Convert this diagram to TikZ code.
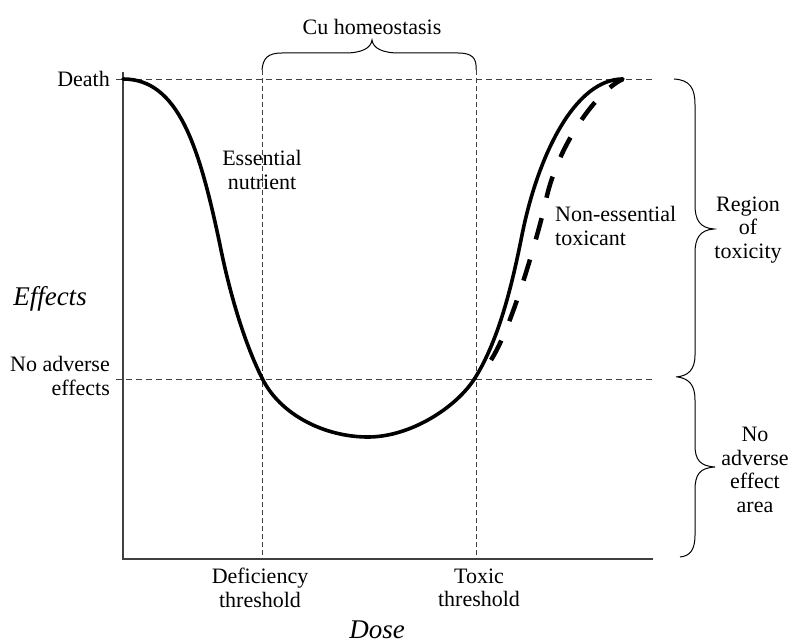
\documentclass[tikz,border=0pt]{standalone}
\usepackage{fontspec}
\setmainfont{Liberation Serif}
\begin{document}
\begin{tikzpicture}[x=1pt,y=-1pt,
  lbl/.style={font=\fontsize{22}{23.5}\selectfont, align=center, inner sep=0pt},
  axislbl/.style={font=\fontsize{27}{30}\selectfont\itshape, inner sep=0pt},
  guide/.style={draw=black!75, line width=0.9pt, dash pattern=on 6pt off 4pt},
  vguide/.style={draw=black!75, line width=0.8pt, dash pattern=on 5pt off 3pt},
  axisline/.style={draw=black!75, line width=1.5pt},
  response/.style={line width=3.6pt, line join=round, line cap=round},
  toxcurve/.style={line width=4.5pt, dash pattern=on 22pt off 21pt},
  bracecurve/.style={line width=1pt},
]
\useasboundingbox (0,0) rectangle (789,644);

% named coordinates
\coordinate (O) at (123,559);
\coordinate (ytop) at (123,72);
\coordinate (xend) at (653,559);
\coordinate (deathL) at (116,79);
\coordinate (deathR) at (652,79);
\coordinate (noaeL) at (116,379);
\coordinate (noaeR) at (653,379);
\coordinate (defT) at (262,70);
\coordinate (defB) at (262,559);
\coordinate (toxT) at (476,70);
\coordinate (toxB) at (476,559);
\coordinate (start) at (123,79);
\coordinate (infl1) at (220,245);
\coordinate (cross1) at (262,378);
\coordinate (bottom) at (368,437);
\coordinate (cross2) at (475,378);
\coordinate (infl2) at (522,235);
\coordinate (peak) at (623,79);
\coordinate (tstart) at (491,360);
\coordinate (tmid) at (545,205);

% guides
\draw[guide] (deathL) -- (deathR);
\draw[guide] (noaeL) -- (noaeR);
\draw[vguide] (defT) -- (defB);
\draw[vguide] (toxT) -- (toxB);

% axes
\draw[axisline] (ytop) -- (O) -- (xend);

% essential nutrient curve
\draw[response] (start) .. controls (178,79) and (199,145) .. (infl1)
  .. controls (228,285) and (242,338) .. (cross1)
  .. controls (280,415) and (325,437) .. (bottom)
  .. controls (410,437) and (456,408) .. (cross2)
  .. controls (500,338) and (513,280) .. (infl2)
  .. controls (538,155) and (575,79) .. (peak);

% non-essential toxicant curve
\draw[toxcurve] (tstart) .. controls (511,329) and (535,245) .. (tmid)
  .. controls (555,150) and (595,92) .. (peak);

% top brace
\draw[bracecurve] (defT) .. controls (263,58) and (268,53) .. (282,53) -- (345,53)
  .. controls (362,53) and (371,48) .. (372,40)
  .. controls (373,48) and (382,53) .. (399,53) -- (458,53)
  .. controls (472,53) and (477,58) .. (toxT);

% right braces
\draw[bracecurve] (674,79) .. controls (690,80) and (695,88) .. (695,105) -- (695,205)
  .. controls (695,220) and (700,228) .. (714,229)
  .. controls (700,230) and (695,238) .. (695,253) -- (695,355)
  .. controls (695,370) and (688,376) .. (676,377);
\draw[bracecurve] (678,377) .. controls (690,379) and (695,386) .. (695,400) -- (695,445)
  .. controls (695,460) and (700,466) .. (715,467)
  .. controls (700,468) and (695,474) .. (695,490) -- (695,535)
  .. controls (695,550) and (690,556) .. (680,557);

% labels
\node[lbl] (cuh) at (372,27) {Cu homeostasis};
\node[lbl, anchor=east] (death) at (110,79) {Death};
\node[lbl] (ess) at (262,170) {Essential\\nutrient};
\node[lbl, align=left, anchor=west] (nonness) at (555,226) {Non-essential\\toxicant};
\node[lbl] (region) at (748,230) {Region\\of\\toxicity};
\node[lbl] (noarea) at (755,470) {No\\adverse\\effect\\area};
\node[axislbl] (effects) at (50,299) {Effects};
\node[lbl, align=right, anchor=east] (noae) at (110,376) {No adverse\\effects};
\node[lbl] (defth) at (260,588) {Deficiency\\threshold};
\node[lbl] (toxth) at (479,588) {Toxic\\threshold};
\node[axislbl] (dose) at (377,630) {Dose};
\end{tikzpicture}
\end{document}
